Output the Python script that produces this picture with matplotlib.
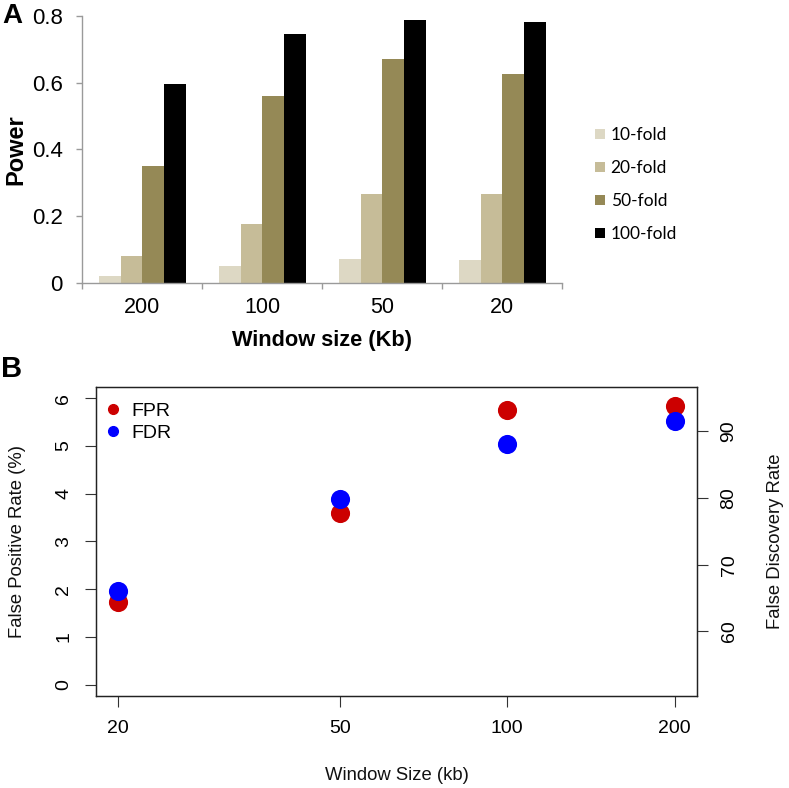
import matplotlib
matplotlib.use("Agg")
import matplotlib.pyplot as plt
from matplotlib.patches import Patch
from matplotlib.lines import Line2D
import numpy as np

# ---------------- data ----------------
window_A = ['200', '100', '50', '20']
series_A = ['10-fold', '20-fold', '50-fold', '100-fold']
fold10 = [0.02, 0.05, 0.071, 0.068]
fold20 = [0.08, 0.175, 0.266, 0.266]
fold50 = [0.351, 0.56, 0.672, 0.626]
fold100 = [0.595, 0.747, 0.787, 0.781]
colors_A = ['#ddd8c4', '#c6bc98', '#958956', '#000000']
yticks_A = [0, 0.2, 0.4, 0.6, 0.8]
ytick_labels_A = ['0', '0.2', '0.4', '0.6', '0.8']

window_B = [20, 50, 100, 200]
fpr = [1.73, 3.60, 5.76, 5.84]
fdr = [66.1, 79.8, 88.1, 91.6]

W, H = 789, 788
fig = plt.figure(figsize=(W / 100, H / 100), dpi=100)
plt.rcParams['font.family'] = ['Liberation Sans', 'DejaVu Sans']

def fx(px):
    return px / W

def fy(py):
    return 1 - py / H

# ---------------- Panel A ----------------
axA = fig.add_axes([fx(82), fy(282.7), fx(480), 266.7 / H])
gray = '#9a9a9a'
bw = 0.181
start = 0.1417
for i, (vals, col, lab) in enumerate(zip([fold10, fold20, fold50, fold100], colors_A, series_A)):
    xs = np.arange(len(window_A)) + start + i * bw
    axA.bar(xs, vals, width=bw, align='edge', color=col, label=lab, linewidth=0)
axA.set_xlim(0, 4)
axA.set_ylim(0, 0.8)
for s in ['top', 'right']:
    axA.spines[s].set_visible(False)
for s in ['left', 'bottom']:
    axA.spines[s].set_color(gray)
    axA.spines[s].set_linewidth(1.0)
axA.set_yticks(yticks_A)
axA.set_yticklabels(ytick_labels_A, fontsize=16)
axA.tick_params(axis='y', length=4, color=gray, width=1.0, pad=10)
axA.set_xticks(np.arange(0, 5))
axA.set_xticklabels([])
axA.tick_params(axis='x', which='major', length=4, color=gray, width=1.0)
axA.set_xticks(np.arange(len(window_A)) + 0.5, minor=True)
axA.set_xticklabels(window_A, minor=True, fontsize=15.5)
axA.tick_params(axis='x', which='minor', length=0, pad=10)

fig.text(fx(16), fy(150), 'Power', rotation=90, ha='center', va='center',
         fontsize=17, fontweight='bold')
fig.text(fx(322), fy(340), 'Window size (Kb)', ha='center', va='center',
         fontsize=15.7, fontweight='bold')
fig.text(fx(2), fy(16), 'A', ha='left', va='center', fontsize=20, fontweight='bold')

handles_A = [Patch(facecolor=c, edgecolor='none', label=l) for c, l in zip(colors_A, series_A)]
fig.legend(handles=handles_A, loc='upper left', bbox_to_anchor=(fx(595), fy(127)),
           frameon=False, prop={'family': 'Lato', 'size': 12.5},
           handlelength=0.55, handleheight=0.55, handletextpad=0.35,
           labelspacing=0.98, borderpad=0, borderaxespad=0)

# ---------------- Panel B ----------------
red = '#cc0000'
blue = '#0000ff'
axB = fig.add_axes([fx(96), fy(696), fx(601), (696 - 386.7) / H])
axB.set_xscale('log')
axB.scatter(window_B, fpr, s=190, color=red, zorder=3, linewidths=0)
lr = np.log10(20), np.log10(200)
d = (lr[1] - lr[0]) * 0.04
axB.set_xlim(10 ** (lr[0] - d), 10 ** (lr[1] + d))
axB.set_ylim(-0.24, 6.24)
axB.set_xticks(window_B)
axB.set_xticklabels([str(v) for v in window_B], fontsize=14)
axB.xaxis.set_minor_locator(matplotlib.ticker.NullLocator())
axB.set_yticks(range(0, 7))
axB.set_yticklabels([str(v) for v in range(0, 7)], fontsize=14, rotation=90, va='center')
axB.tick_params(axis='both', length=8, width=0.8, color='#333333', pad=9)
for s in axB.spines.values():
    s.set_linewidth(0.9)
    s.set_color('#222222')

axB2 = axB.twinx()
axB2.scatter(window_B, fdr, s=190, color=blue, zorder=3, linewidths=0)
axB2.set_ylim(50.28, 96.72)
axB2.set_yticks([60, 70, 80, 90])
axB2.set_yticklabels(['60', '70', '80', '90'], fontsize=14, rotation=90, va='center')
axB2.tick_params(axis='y', length=8, width=0.8, color='#333333', pad=9)
for s in axB2.spines.values():
    s.set_linewidth(0.9)
    s.set_color('#222222')

fig.text(fx(18), fy(541), 'False Positive Rate (%)', rotation=90, ha='center', va='center',
         fontsize=13.3, color='#111111')
fig.text(fx(776), fy(541), 'False Discovery Rate', rotation=90, ha='center', va='center',
         fontsize=13.3, color='#111111')
fig.text(fx(397), fy(775), 'Window Size (kb)', ha='center', va='center',
         fontsize=13.3, color='#111111')
fig.text(fx(1), fy(369), 'B', ha='left', va='center', fontsize=21, fontweight='bold')

handles_B = [Line2D([], [], marker='o', linestyle='none', color=red, markersize=7, label='FPR'),
             Line2D([], [], marker='o', linestyle='none', color=blue, markersize=7, label='FDR')]
fig.legend(handles=handles_B, loc='upper left', bbox_to_anchor=(fx(103), fy(402)),
           frameon=False, fontsize=14, handlelength=1.0, handletextpad=0.45,
           labelspacing=0.25, borderpad=0, borderaxespad=0)

fig.savefig('out.png', dpi=100)
